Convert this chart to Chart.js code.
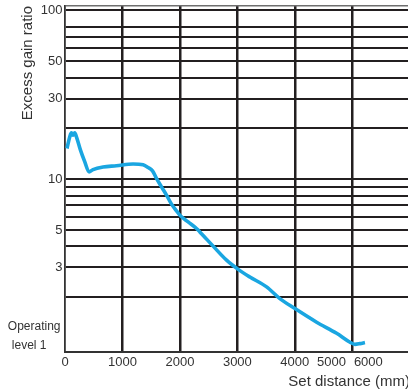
<!DOCTYPE html>
<html><head><meta charset="utf-8">
<script src="https://cdn.jsdelivr.net/npm/chart.js@4.4.0/dist/chart.umd.min.js"></script>
<style>
html,body{margin:0;padding:0;background:#fff;overflow:hidden;width:408px;height:392px}
#wrap{position:absolute;left:0;top:0;width:410px;height:392px}
</style>
</head><body><div id="wrap"><canvas id="c" width="410" height="392"></canvas></div>
<script>
// Set distance (mm) and excess gain ratio
const distance = [35,82,111,139,169,209,268,343,418,488,662,895,1185,1359,1446,1523,1592,1679,1767,1854,1941,1998,2143,2289,2347,2578,2812,3014,3218,3509,3740,4002,4380,4728,4960,5047,5134,5221];
const gainRatio = [15.2,17.8,18.8,18.2,18.8,17.4,14.9,12.7,11.05,11.4,11.8,12.0,12.3,12.16,11.73,11.2,10.1,9.0,8.04,7.11,6.49,6.12,5.58,5.10,4.87,4.01,3.31,2.92,2.63,2.30,1.96,1.71,1.42,1.22,1.08,1.05,1.06,1.075];

// Axes
const yGridValues = [2,3,4,5,6,7,8,9,10,20,30,40,50,60,70,80,100];
const yLabelValues = [3,5,10,30,50,100];
const yMin = 0.9456, yMax = 106.2;
const xGridValues = [1000,2000,3000,4000,5000];
const xLabelValues = [0,1000,2000,3000,4000,4640,5280];
const xTickLabels = ['0','1000','2000','3000','4000','5000','6000'];
const xMin = 0, xMax = 6005;
const operatingLabel = ['Operating','level 1'];
const yTitle = 'Excess gain ratio';
const xTitle = 'Set distance (mm)';

const FONT = '"Liberation Sans", Arial, Helvetica, sans-serif';
const TXT = '#333333';
const GRID = '#231f20';

const operatingPlugin = {
  id: 'operating',
  afterDraw(chart) {
    const {ctx, scales: {y}} = chart;
    const py = y.getPixelForValue(1);
    ctx.save();
    ctx.fillStyle = TXT;
    ctx.textBaseline = 'middle';
    ctx.textAlign = 'right';
    ctx.font = '12px ' + FONT;
    ctx.fillText(operatingLabel[0], y.right - 4.5, py - 21.5);
    ctx.fillText(operatingLabel[1], y.right - 18.5, py - 2);
    ctx.restore();
  }
};

new Chart(document.getElementById('c'), {
  type: 'line',
  data: {
    datasets: [{
      data: distance.map((d, i) => ({x: d, y: gainRatio[i]})),
      borderColor: '#1aa6e1',
      borderWidth: 3.6,
      pointRadius: 0,
      cubicInterpolationMode: 'monotone',
      fill: false
    }]
  },
  plugins: [operatingPlugin],
  options: {
    responsive: false,
    animation: false,
    devicePixelRatio: 1,
    layout: {padding: {top: 6, left: 0, right: 0, bottom: 0}},
    plugins: {legend: {display: false}, tooltip: {enabled: false}},
    scales: {
      x: {
        type: 'linear',
        min: xMin, max: xMax,
        afterBuildTicks(scale) {
          const vals = Array.from(new Set([0, ...xGridValues, ...xLabelValues])).sort((a, b) => a - b);
          scale.ticks = vals.map(v => ({value: v}));
        },
        afterFit(scale) {
          scale.height = 40;
          scale.paddingLeft = 0; scale.paddingRight = 0;
        },
        grid: {
          drawTicks: false,
          lineWidth: 2.5,
          color: (c) => (c.tick && xGridValues.includes(c.tick.value)) ? GRID : 'rgba(0,0,0,0)'
        },
        border: {display: true, color: '#333333', width: 2},
        ticks: {
          autoSkip: false, maxRotation: 0, minRotation: 0,
          padding: 3,
          color: TXT,
          font: {family: FONT, size: 13},
          callback: (v) => {
            const i = xLabelValues.indexOf(v);
            return i >= 0 ? xTickLabels[i] : '';
          }
        },
        title: {
          display: true, text: xTitle, align: 'end',
          color: TXT, font: {family: FONT, size: 15},
          padding: {top: 0, bottom: 1.5}
        }
      },
      y: {
        type: 'logarithmic',
        min: yMin, max: yMax,
        afterBuildTicks(scale) {
          scale.ticks = [...yGridValues, yMax].map(v => ({value: v}));
        },
        afterFit(scale) {
          scale.width = 65;
          scale.paddingTop = 0; scale.paddingBottom = 0;
        },
        grid: {
          drawTicks: false,
          lineWidth: (c) => (c.tick && c.tick.value === yMax) ? 1.5 : 2,
          color: (c) => (c.tick && c.tick.value === yMax) ? '#6e6e6e' : GRID
        },
        border: {display: true, color: '#333333', width: 1.8},
        ticks: {
          autoSkip: false,
          padding: 2.5,
          color: TXT,
          font: {family: FONT, size: 13},
          callback: (v) => yLabelValues.includes(v) ? String(v) : ''
        },
        title: {
          display: true, text: yTitle, align: 'end',
          color: TXT, font: {family: FONT, size: 15},
          padding: {top: 18.5, bottom: 0}
        }
      }
    }
  }
});
</script>
</body></html>
